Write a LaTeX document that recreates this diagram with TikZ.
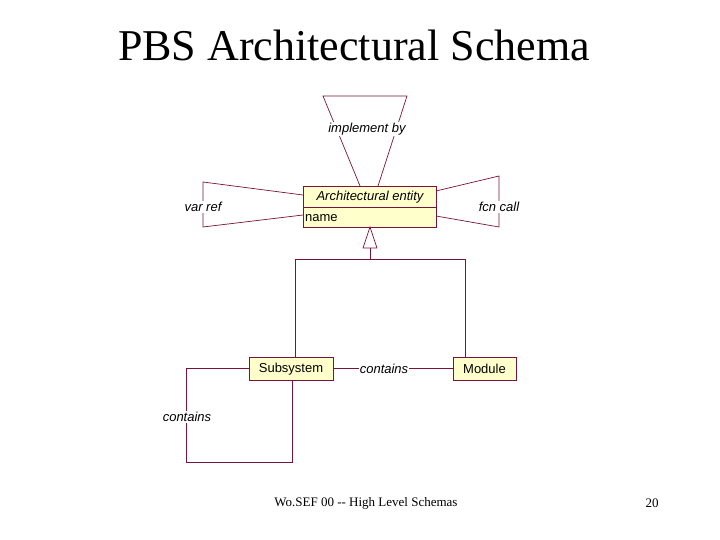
\documentclass[tikz,border=0pt]{standalone}
\usepackage{fontspec}
\setmainfont{Liberation Serif}
\newfontfamily\lsans{Liberation Sans}
\definecolor{ln}{RGB}{120,20,60}
\definecolor{fl}{RGB}{255,255,204}
\begin{document}
\begin{tikzpicture}[x=1pt,y=-1pt,
  cls/.style={draw=ln,fill=fl,inner sep=0pt,anchor=north west},
  txt/.style={font=\lsans\fontsize{13}{15}\selectfont,inner sep=0pt},
  lab/.style={font=\lsans\itshape\fontsize{13}{15}\selectfont,fill=white,inner sep=1pt},
  ln/.style={draw=ln,line width=0.7pt}]
\useasboundingbox (0,0) rectangle (720,540);
\node[font=\fontsize{44}{48}\selectfont] (title) at (354,45) {PBS Architectural Schema};
\node[font=\fontsize{13}{15}\selectfont] (foot) at (366,503) {Wo.SEF 00 -{}- High Level Schemas};
\node[font=\fontsize{13}{15}\selectfont] (pg) at (652,503) {20};
% entity
\node[cls,minimum width=133pt,minimum height=21pt] (ae) at (303,186) {};
\node[cls,minimum width=133pt,minimum height=20pt] (aen) at (303,207) {};
\node[txt,font=\lsans\itshape\fontsize{13}{15}\selectfont] (aet) at (370,197) {Architectural entity};
\node[txt,anchor=west] (aenm) at (305,218) {name};
% implement by
\coordinate (i1) at (360,186); \coordinate (i2) at (323,96); \coordinate (i3) at (407,96); \coordinate (i4) at (378,186);
\draw[ln] (i1) -- (i2) -- (i3) -- (i4);
\node[lab] (ib) at (367,129) {implement by};
% var ref
\coordinate (v1) at (303,195); \coordinate (v2) at (203,182); \coordinate (v3) at (203,227); \coordinate (v4) at (303,215);
\draw[ln] (v1) -- (v2) -- (v3) -- (v4);
\node[lab] (vr) at (203,207) {var ref};
% fcn call
\coordinate (f1) at (436,191); \coordinate (f2) at (499,176); \coordinate (f3) at (499,227); \coordinate (f4) at (436,216);
\draw[ln] (f1) -- (f2) -- (f3) -- (f4);
\node[lab] (fc) at (499,207) {fcn call};
% subclasses
\node[cls,minimum width=84pt,minimum height=23pt] (sub) at (249,357) {};
\node[txt] (subt) at (291,369) {Subsystem};
\node[cls,minimum width=63pt,minimum height=23pt] (mod) at (453,357) {};
\node[txt] (modt) at (484.5,369) {Module};
% generalization
\draw[ln,fill=white] (370,227) -- (363,248) -- (377,248) -- cycle;
\coordinate (g1) at (370,248); \coordinate (g2) at (370,259);
\coordinate (gl) at (295,259); \coordinate (gr) at (465,259);
\draw[ln] (g1) -- (g2);
\draw[ln] (gl) -- (gr);
\draw[ln] (gl) -- (295,357);
\draw[ln] (gr) -- (465,357);
% contains
\draw[ln] (333,368.5) -- (453,368.5);
\node[lab] (c1) at (384,369) {contains};
\coordinate (s1) at (249,368); \coordinate (s2) at (186,368); \coordinate (s3) at (186,462); \coordinate (s4) at (292,462); \coordinate (s5) at (292,380);
\draw[ln] (s1) -- (s2) -- (s3) -- (s4) -- (s5);
\node[lab] (c2) at (187,417) {contains};
\end{tikzpicture}
\end{document}
